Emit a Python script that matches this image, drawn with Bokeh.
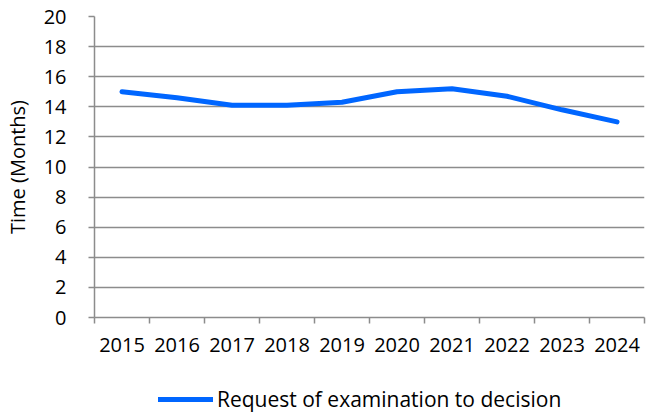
from bokeh.plotting import figure
from bokeh.layouts import column
from bokeh.models import (Range1d, LinearAxis, FixedTicker, Legend, LegendItem, Grid)
from bokeh.embed import file_html
from bokeh.resources import INLINE

years = ["2015", "2016", "2017", "2018", "2019", "2020", "2021", "2022", "2023", "2024"]
months = [15.0, 14.6, 14.1, 14.1, 14.3, 15.0, 15.2, 14.7, 13.8, 13.0]
y_ticks = [0, 2, 4, 6, 8, 10, 12, 14, 16, 18, 20]
series_name = "Request of examination to decision"

FONT = "Open Sans"
GRAY = "#8c8c8c"
BLUE = "#0066ff"

# category slots: each year occupies one unit, centred at index + 0.5
centers = [i + 0.5 for i in range(len(years))]
bounds = list(range(len(years) + 1))

p = figure(width=653, height=365, x_range=Range1d(0, len(years)),
           y_range=Range1d(0, 20), x_axis_type=None, y_axis_type=None,
           output_backend="svg", toolbar_location=None,
           min_border_left=85, min_border_right=9, min_border_top=16, min_border_bottom=48)
p.outline_line_color = None
p.background_fill_color = "white"

yaxis = LinearAxis(ticker=FixedTicker(ticks=y_ticks))
yaxis.axis_label = "Time (Months)"
yaxis.axis_label_text_font = FONT
yaxis.axis_label_text_font_size = "20px"
yaxis.axis_label_text_font_style = "normal"
yaxis.axis_label_text_color = "black"
yaxis.axis_label_standoff = 10
yaxis.major_label_text_font = FONT
yaxis.major_label_text_font_size = "20px"
yaxis.major_label_text_color = "black"
yaxis.major_label_standoff = 22
yaxis.major_tick_out = 6
yaxis.major_tick_in = 0
yaxis.minor_tick_line_color = None
yaxis.axis_line_color = GRAY
yaxis.axis_line_width = 1.5
yaxis.major_tick_line_color = GRAY
yaxis.major_tick_line_width = 1.5
p.add_layout(yaxis, "left")

xaxis = LinearAxis(ticker=FixedTicker(ticks=centers, minor_ticks=bounds))
xaxis.major_label_overrides = {c: y for c, y in zip(centers, years)}
xaxis.major_label_text_font = FONT
xaxis.major_label_text_font_size = "20px"
xaxis.major_label_text_color = "black"
xaxis.major_label_standoff = 14
xaxis.major_tick_line_color = None
xaxis.major_tick_out = 0
xaxis.major_tick_in = 0
xaxis.minor_tick_out = 6
xaxis.minor_tick_in = 0
xaxis.minor_tick_line_color = GRAY
xaxis.minor_tick_line_width = 1.5
xaxis.axis_line_color = GRAY
xaxis.axis_line_width = 1.5
p.add_layout(xaxis, "below")

grid = Grid(dimension=1, ticker=yaxis.ticker, grid_line_color=GRAY, grid_line_width=1.5)
p.add_layout(grid)

p.line(centers, months, line_color=BLUE, line_width=5, line_cap="round", line_join="round")

# legend strip below the chart (series drawn off-range there; only its legend entry shows)
lg = figure(width=653, height=48, x_range=Range1d(0, len(years)), y_range=Range1d(100, 101),
            x_axis_type=None, y_axis_type=None, output_backend="svg", toolbar_location=None,
            min_border_left=0, min_border_right=0, min_border_top=0, min_border_bottom=0)
lg.outline_line_color = None
r2 = lg.line(centers, months, line_color=BLUE, line_width=5, line_cap="round")
legend = Legend(items=[LegendItem(label=series_name, renderers=[r2])],
                location=(64, 0), orientation="horizontal",
                label_text_font=FONT, label_text_font_size="21px", label_text_color="black",
                glyph_width=55, glyph_height=20, label_standoff=4, label_height=20,
                padding=0, margin=0, border_line_color=None, background_fill_alpha=0)
lg.add_layout(legend)

open("out.html", "w").write(file_html(column(p, lg, spacing=0), INLINE))
